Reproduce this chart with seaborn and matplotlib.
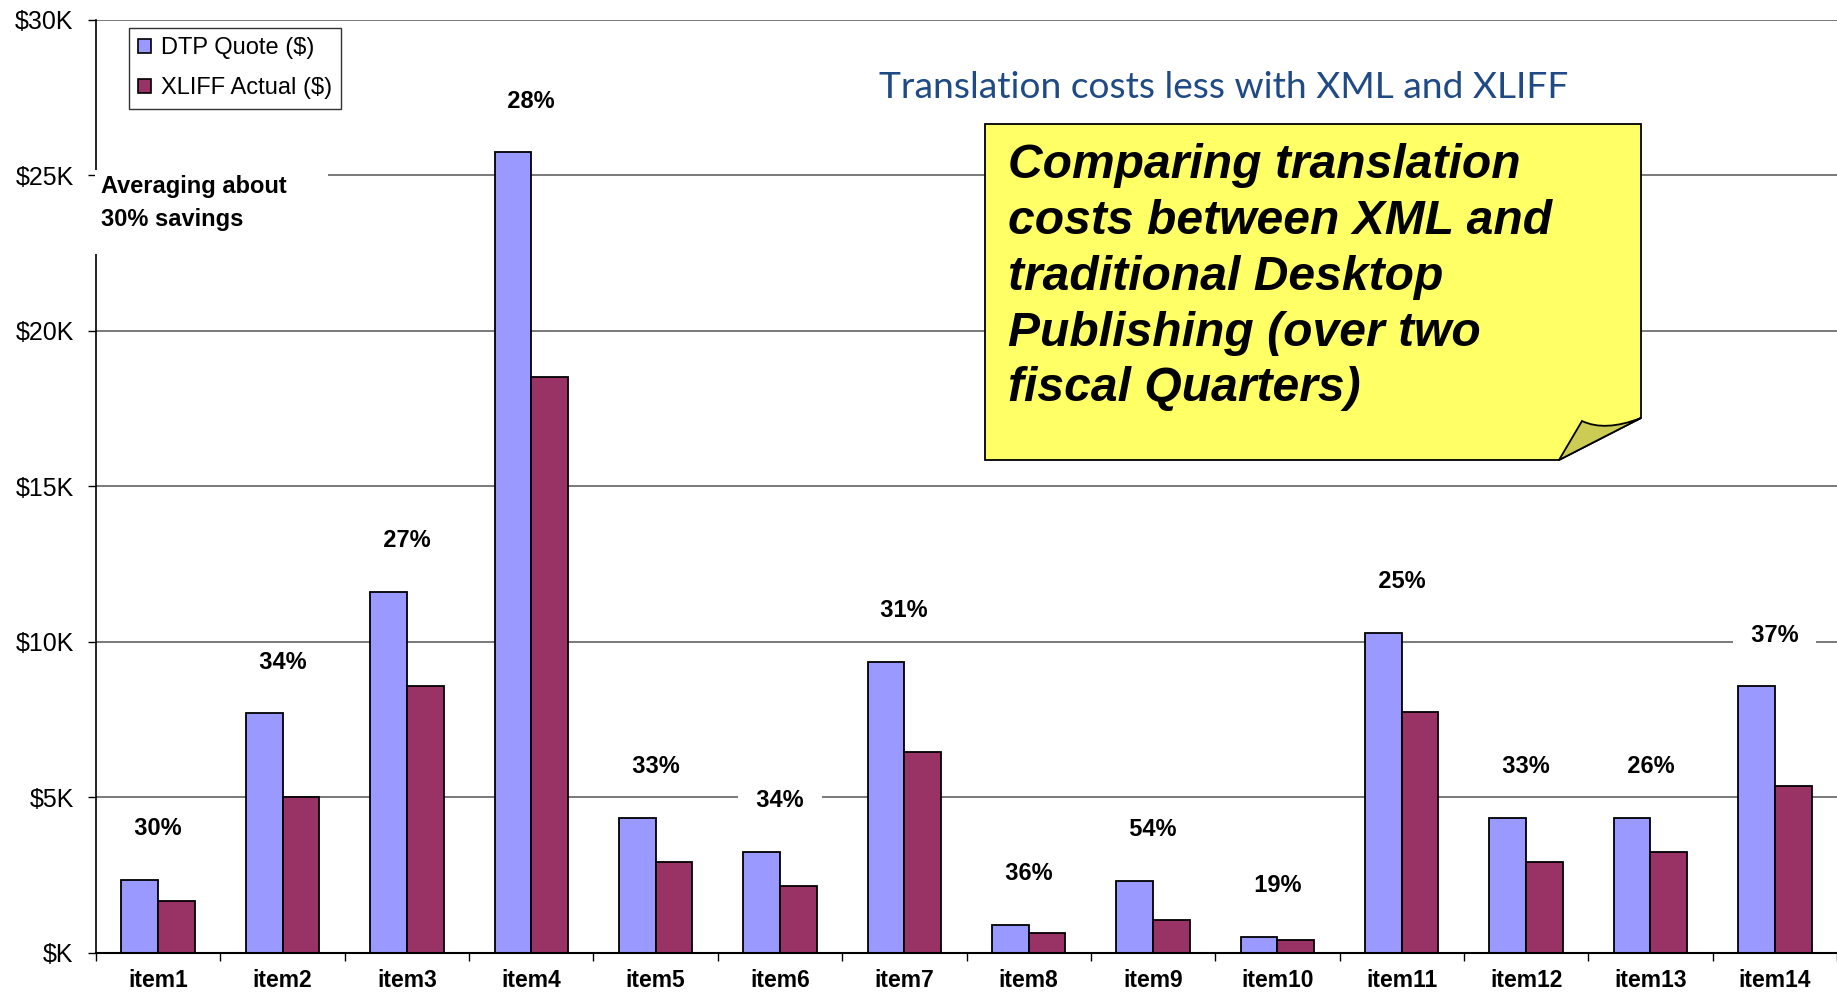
import matplotlib
matplotlib.use("Agg")
import matplotlib.pyplot as plt
import matplotlib.patches as mpatches
from matplotlib.path import Path
from matplotlib.ticker import FuncFormatter, MultipleLocator, FixedLocator
import pandas as pd
import seaborn as sns

# data, in dollars
items = ["item1", "item2", "item3", "item4", "item5", "item6", "item7",
         "item8", "item9", "item10", "item11", "item12", "item13", "item14"]
dtp_quote = [2340, 7690, 11600, 25740, 4330, 3240, 9350,
             900, 2300, 490, 10290, 4330, 4330, 8560]
xliff_actual = [1660, 5000, 8560, 18500, 2900, 2150, 6450,
                640, 1060, 410, 7730, 2900, 3240, 5350]
savings = ["30%", "34%", "27%", "28%", "33%", "34%", "31%",
           "36%", "54%", "19%", "25%", "33%", "26%", "37%"]
series = ["DTP Quote ($)", "XLIFF Actual ($)"]
colors = ["#9999FF", "#993366"]

df = pd.DataFrame({
    "item": items * 2,
    "cost": dtp_quote + xliff_actual,
    "series": [series[0]] * len(items) + [series[1]] * len(items),
})

sns.set_style("white")
plt.rcParams["font.family"] = ["Liberation Sans", "DejaVu Sans"]
plt.rcParams["text.color"] = "black"
plt.rcParams["xtick.color"] = "black"
plt.rcParams["ytick.color"] = "black"

W, H = 1837, 993
fig = plt.figure(figsize=(W / 100, H / 100), dpi=100)
ax_left, ax_top, ax_bottom = 96, 20, 952.5
ax = fig.add_axes([ax_left / W, 1 - ax_bottom / H, 1 - ax_left / W, (ax_bottom - ax_top) / H])

sns.barplot(data=df, x="item", y="cost", hue="series", palette=colors,
            width=0.59, edgecolor="black", linewidth=1.3, saturation=1,
            errorbar=None, legend=False, ax=ax)

ax.set_ylim(0, 30000)
ax.set_xlim(-0.5, len(items) - 0.5)
ax.set_xlabel("")
ax.set_ylabel("")
ax.yaxis.set_major_locator(MultipleLocator(5000))
ax.yaxis.set_major_formatter(FuncFormatter(lambda v, p: "$%dK" % (v / 1000) if v else "$K"))
ax.yaxis.grid(True, color="#555555", lw=1.1)
ax.set_axisbelow(True)
for s in ["top", "right"]:
    ax.spines[s].set_visible(False)
ax.spines["left"].set_color("black")
ax.spines["left"].set_linewidth(1.2)
ax.spines["bottom"].set_color("black")
ax.spines["bottom"].set_linewidth(1.5)

ax.tick_params(axis="y", left=True, length=6, width=1, color="black", labelcolor="black",
               pad=10, labelsize=18)
ax.tick_params(axis="x", which="major", length=0, pad=12, labelsize=16.5, labelcolor="black")
ax.xaxis.set_minor_locator(FixedLocator([i - 0.5 for i in range(len(items) + 1)]))
ax.tick_params(axis="x", which="minor", bottom=True, length=6, width=1, color="black")
for lbl in ax.get_xticklabels():
    lbl.set_fontweight("bold")

# savings labels above each pair
for i, (v, s) in enumerate(zip(dtp_quote, savings)):
    ax.text(i, v + 1650, "  " + s + "  ", ha="center", va="center", fontsize=17, fontweight="bold",
            color="black", bbox=dict(boxstyle="square,pad=0.2", facecolor="white", edgecolor="none"),
            zorder=4)

handles = [mpatches.Patch(facecolor=c, edgecolor="black", lw=1.2, label=l)
           for c, l in zip(colors, series)]
leg = ax.legend(handles=handles, loc="upper left",
                bbox_to_anchor=((129 - ax_left) / (W - ax_left), 1 - (28 - ax_top) / (ax_bottom - ax_top)),
                borderaxespad=0, frameon=True, fancybox=False, edgecolor="black",
                fontsize=17, handlelength=0.55, handleheight=0.55, handletextpad=0.4,
                labelspacing=0.75, borderpad=0.4, labelcolor="black")
leg.get_frame().set_linewidth(1.0)


def fx(x):
    return x / W


def fy(y):
    return 1 - y / H


# "Averaging" note with white backing over spine and gridline
fig.add_artist(mpatches.Rectangle((fx(94.5), fy(254)), fx(328) - fx(94.5), fy(170) - fy(254),
                                  facecolor="white", edgecolor="none", zorder=5))
fig.text(fx(101), fy(203), "Averaging about\n30% savings", ha="left", va="center",
         fontsize=17, fontweight="bold", linespacing=1.52, color="black", zorder=6)

fig.text(fx(1224), fy(88), "Translation costs less with XML and XLIFF", ha="center", va="center",
         fontsize=26.7, color="#1F4A85", family=["Lato", "DejaVu Sans"], zorder=6)

# yellow sticky note with folded corner
note = [(985, 124), (1641, 124), (1641, 418), (1559, 460), (985, 460), (985, 124)]
fig.add_artist(mpatches.Polygon([(fx(x), fy(y)) for x, y in note], closed=True,
                                facecolor="#FFFF66", edgecolor="black", lw=1.3, zorder=5))
fold = Path([(fx(1559), fy(460)), (fx(1582), fy(421)), (fx(1605), fy(432)), (fx(1641), fy(418)),
             (fx(1559), fy(460))],
            [Path.MOVETO, Path.LINETO, Path.CURVE3, Path.CURVE3, Path.CLOSEPOLY])
fig.add_artist(mpatches.PathPatch(fold, facecolor="#CCCC55", edgecolor="black", lw=1.3, zorder=6))
fig.text(fx(1008), fy(143), "Comparing translation\ncosts between XML and\ntraditional Desktop\n"
         "Publishing (over two\nfiscal Quarters)", ha="left", va="top", fontsize=34.6,
         fontweight="bold", style="italic", linespacing=1.31, color="black", zorder=7)

fig.savefig("out.png", dpi=100)
